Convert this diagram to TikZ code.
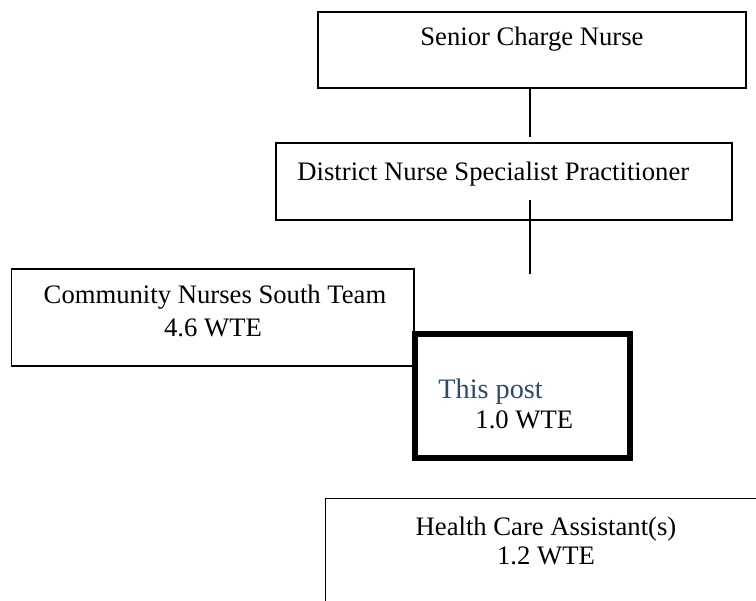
\documentclass[tikz,border=0pt]{standalone}
\usepackage{fontspec}
\setmainfont{Liberation Serif}
\usetikzlibrary{fit}
\definecolor{postblue}{RGB}{43,74,114}
\tikzset{
  box/.style={draw,inner sep=0pt,line width=0.75pt},
  postbox/.style={draw,inner sep=0pt,line width=2.7pt},
  lbl/.style={inner sep=0pt,anchor=base,font=\fontsize{12}{14}\selectfont},
  link/.style={line width=0.75pt}
}

\begin{document}
\begin{tikzpicture}[x=0.45pt,y=-0.45pt]
  % pixel grid of the reference, y pointing down
  \useasboundingbox (0,0) rectangle (756,601);
  \clip (0,0) rectangle (756,601);
  \node[box,fit={(318,12) (746,88)}] (senior) {};
  \node[lbl] (seniortxt) at (532,45) {Senior Charge Nurse};
  \node[box,fit={(276,143) (732,220)}] (district) {};
  \node[lbl,anchor=base west] (districttxt) at (297,180) {District Nurse Specialist Practitioner};
  \node[box,fit={(11.5,269) (414,366)}] (community) {};
  \node[lbl] (communitytxt) at (215,303) {Community Nurses South Team};
  \node[lbl] (communitywte) at (213,336) {4.6 WTE};
  \node[postbox,fill=white,fit={(415,334) (630,458)}] (post) {};
  \node[lbl,anchor=base west,text=postblue,font=\fontsize{12.7}{15}\selectfont] (posttxt) at (438,398) {This post};
  \node[lbl,anchor=base west] (postwte) at (475,428) {1.0 WTE};
  \node[box,fit={(325.5,498.5) (780,640)}] (hca) {};
  \node[lbl] (hcatxt) at (546,535) {Health Care Assistant(s)};
  \node[lbl] (hcawte) at (546,564) {1.2 WTE};
  % connectors with free ends
  \coordinate (gap) at (530,137);
  \coordinate (inside) at (530,200);
  \coordinate (tail) at (530,274);
  \draw[link] (senior.south -| gap) -- (gap);
  \draw[link] (inside) -- (tail);
\end{tikzpicture}
\end{document}
